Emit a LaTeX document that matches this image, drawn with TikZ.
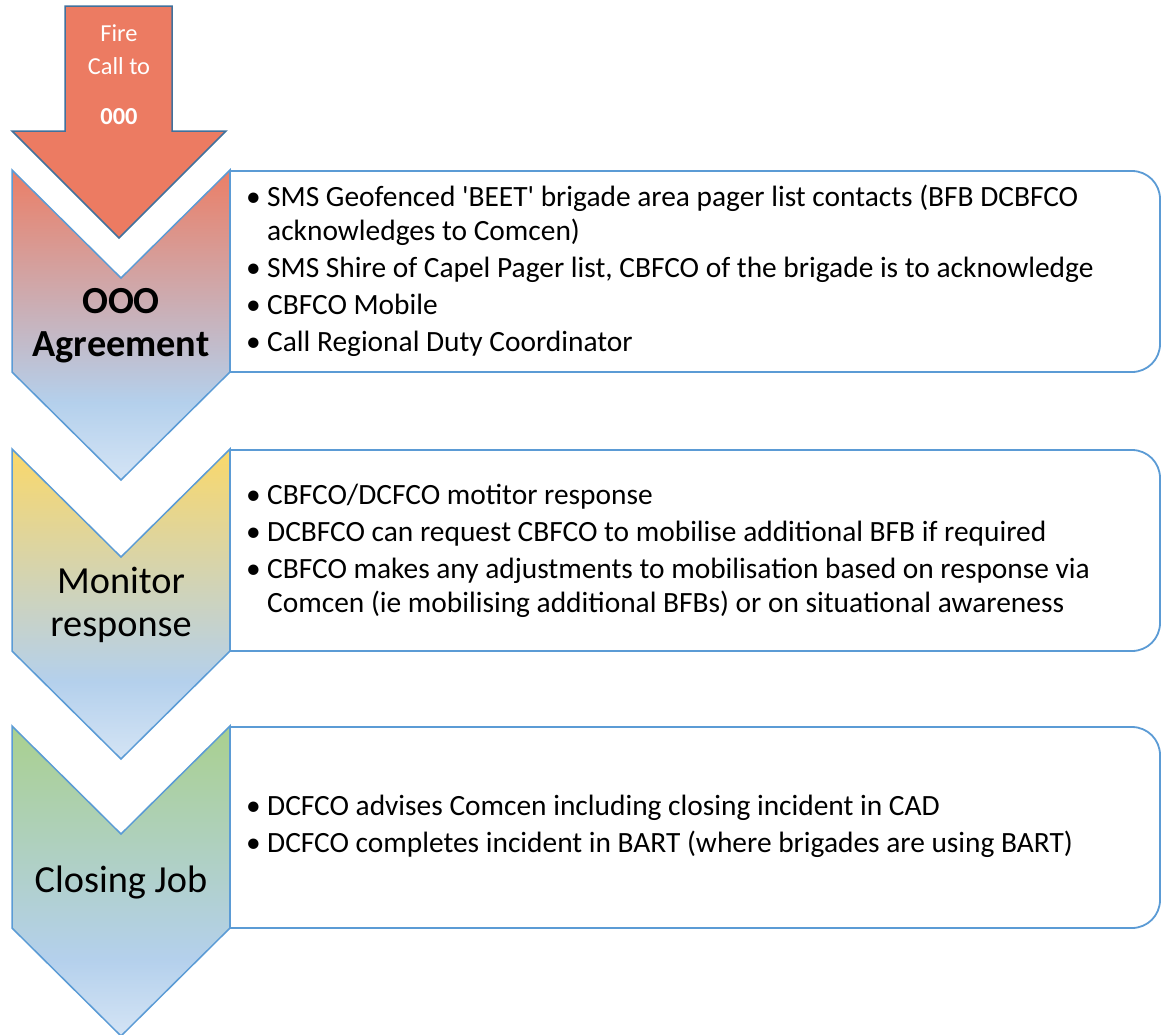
\documentclass[tikz,border=0pt]{standalone}
\usepackage{fontspec}
\setmainfont{Carlito}
\usetikzlibrary{positioning}

\definecolor{fireRed}{HTML}{EC7B62}
\definecolor{agreeRed}{HTML}{EB7E66}
\definecolor{monYellow}{HTML}{FAD86A}
\definecolor{closeGreen}{HTML}{A9D08E}
\definecolor{midBlue}{HTML}{B4D0EC}
\definecolor{tipBlue}{HTML}{D4E4F5}
\definecolor{edgeBlue}{HTML}{5B9BD5}
\definecolor{darkEdge}{HTML}{41719C}

\pgfdeclareverticalshading{shadeAgree}{100bp}{color(0bp)=(tipBlue); color(25bp)=(tipBlue); color(37.5bp)=(midBlue); color(75bp)=(agreeRed); color(100bp)=(agreeRed)}
\pgfdeclareverticalshading{shadeMonitor}{100bp}{color(0bp)=(tipBlue); color(25bp)=(tipBlue); color(37.5bp)=(midBlue); color(75bp)=(monYellow); color(100bp)=(monYellow)}
\pgfdeclareverticalshading{shadeClose}{100bp}{color(0bp)=(tipBlue); color(25bp)=(tipBlue); color(37.5bp)=(midBlue); color(75bp)=(closeGreen); color(100bp)=(closeGreen)}

\newcommand{\bitem}{\makebox[21pt][l]{\textbullet}}
\newcommand{\bcont}{\hspace*{21pt}}

\begin{document}
\begin{tikzpicture}[x=1pt,y=-1pt]

    \useasboundingbox (0,0) rectangle (1161,1034);

    \tikzstyle{chev}=[draw=edgeBlue,line width=1.5pt,line join=miter]
    \tikzstyle{listbox}=[draw=edgeBlue,line width=1.8pt,fill=white]
    \tikzstyle{steptext}=[align=center,inner sep=0pt,font=\fontsize{38.3}{43}\selectfont]
    \tikzstyle{bullets}=[anchor=west,align=left,inner sep=0pt,font=\fontsize{29.4}{34}\selectfont]

    % ============================
    % Fire call arrow
    % ============================

    \draw[fill=fireRed,draw=darkEdge,line width=1.5pt]
        (65,6) -- (172,6) -- (172,131) -- (226,131) -- (119,238)
        -- (12,131) -- (65,131) -- cycle;
    \node[align=center,inner sep=0pt,text=white,font=\fontsize{24.4}{33}\selectfont]
        (call) at (119,75) {Fire\\Call to\\[17pt]\textbf{000}};

    % ============================
    % Chevrons
    % ============================

    \shade[chev,shading=shadeAgree]
        (12,170) -- (121,278) -- (230,170) -- (230,372) -- (121,480) -- (12,372) -- cycle;
    \shade[chev,shading=shadeMonitor]
        (12,449) -- (121,557) -- (230,449) -- (230,651) -- (121,759) -- (12,651) -- cycle;
    \shade[chev,shading=shadeClose]
        (12,726) -- (121,834) -- (230,726) -- (230,928) -- (121,1036) -- (12,928) -- cycle;

    \node[steptext] (agree) at (121,326) {\textbf{OOO}\\\textbf{Agreement}};
    \node[steptext] (monitor) at (121,605) {Monitor\\response};
    \node[steptext] (closing) at (121,882) {Closing Job};

    % ============================
    % Text boxes
    % ============================

    \draw[listbox] (230,171) -- (1132,171) arc[start angle=-90,end angle=0,radius=28]
        -- (1160,344) arc[start angle=0,end angle=90,radius=28] -- (230,372) -- cycle;
    \draw[listbox] (230,450) -- (1132,450) arc[start angle=-90,end angle=0,radius=28]
        -- (1160,623) arc[start angle=0,end angle=90,radius=28] -- (230,651) -- cycle;
    \draw[listbox] (230,727) -- (1132,727) arc[start angle=-90,end angle=0,radius=28]
        -- (1160,900) arc[start angle=0,end angle=90,radius=28] -- (230,928) -- cycle;

    \node[bullets] (agreeList) at (246,271) {%
        \bitem SMS Geofenced \textquotesingle BEET\textquotesingle{} brigade area pager list contacts (BFB DCBFCO\\
        \bcont acknowledges to Comcen)\\[3pt]
        \bitem SMS Shire of Capel Pager list, CBFCO of the brigade is to acknowledge\\[3pt]
        \bitem CBFCO Mobile\\[3pt]
        \bitem Call Regional Duty Coordinator};

    \node[bullets] (monitorList) at (246,551) {%
        \bitem CBFCO/DCFCO motitor response\\[3pt]
        \bitem DCBFCO can request CBFCO to mobilise additional BFB if required\\[3pt]
        \bitem CBFCO makes any adjustments to mobilisation based on response via\\
        \bcont Comcen (ie mobilising additional BFBs) or on situational awareness};

    \node[bullets] (closingList) at (246,826) {%
        \bitem DCFCO advises Comcen including closing incident in CAD\\[3pt]
        \bitem DCFCO completes incident in BART (where brigades are using BART)};

\end{tikzpicture}
\end{document}
